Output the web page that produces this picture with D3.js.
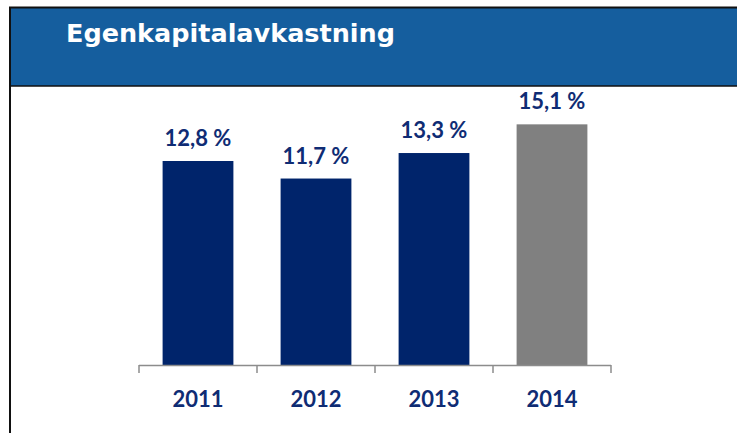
<!DOCTYPE html>
<html>
<head>
<meta charset="utf-8">
<script src="https://cdn.jsdelivr.net/npm/d3@7"></script>
<style>
body{margin:0;background:#fff;}
svg{display:block;}
</style>
</head>
<body>
<script>
var years=["2011","2012","2013","2014"];
var roe=[12.8,11.7,13.3,15.1];
var labels=["12,8 %","11,7 %","13,3 %","15,1 %"];
var title="Egenkapitalavkastning";

var width=737,height=433;
var svg=d3.select("body").append("svg").attr("width",width).attr("height",height);

// header band + frame
svg.append("rect").attr("x",10).attr("y",8).attr("width",width-10).attr("height",78).attr("fill","#155e9e");
svg.append("line").attr("x1",9).attr("x2",width).attr("y1",7.5).attr("y2",7.5).attr("stroke","#111").attr("stroke-width",2);
svg.append("line").attr("x1",9).attr("x2",width).attr("y1",86).attr("y2",86).attr("stroke","#111").attr("stroke-width",1.5);
svg.append("line").attr("x1",10).attr("x2",10).attr("y1",7).attr("y2",height).attr("stroke","#111").attr("stroke-width",2);

svg.append("text").attr("x",66).attr("y",42).attr("fill","#fff")
	.attr("textLength",329).attr("lengthAdjust","spacingAndGlyphs")
	.style("font-family","DejaVu Sans").style("font-weight","bold").style("font-size","25px").text(title);

var xscale=d3.scaleBand().domain(years).range([139,611]).paddingInner(0.4).paddingOuter(0.2);
var yscale=d3.scaleLinear().domain([0,16]).range([365,110]);

var g=svg.append("g");
g.selectAll("rect.bar").data(years).enter().append("rect").attr("class","bar")
	.attr("x",function(d){return xscale(d);})
	.attr("width",xscale.bandwidth())
	.attr("y",function(d,i){return yscale(roe[i]);})
	.attr("height",function(d,i){return yscale(0)-yscale(roe[i]);})
	.attr("fill",function(d,i){return i==3?"#808080":"#00246b";});

g.selectAll("text.val").data(years).enter().append("text").attr("class","val")
	.attr("x",function(d){return xscale(d)+xscale.bandwidth()/2;})
	.attr("y",function(d,i){return yscale(roe[i])-15;})
	.attr("text-anchor","middle").attr("fill","#0f2c74")
	.style("font-family","Lato").style("font-weight","bold").style("font-size","22px")
	.text(function(d,i){return labels[i];});

// axis line and ticks at band edges
svg.append("line").attr("x1",139).attr("x2",611).attr("y1",365.5).attr("y2",365.5).attr("stroke","#8c8c8c").attr("stroke-width",1.5);
var edges=years.map(function(d){return xscale(d)-xscale.step()*xscale.paddingInner()/2;});
edges.push(611);
edges[0]=139;
svg.selectAll("line.tick").data(edges).enter().append("line").attr("class","tick")
	.attr("x1",function(d){return d;}).attr("x2",function(d){return d;})
	.attr("y1",365).attr("y2",373).attr("stroke","#8c8c8c").attr("stroke-width",1.5);

svg.selectAll("text.yr").data(years).enter().append("text").attr("class","yr")
	.attr("x",function(d){return xscale(d)+xscale.bandwidth()/2;})
	.attr("y",407).attr("text-anchor","middle").attr("fill","#0f2c74")
	.style("font-family","Lato").style("font-weight","bold").style("font-size","22px")
	.text(function(d){return d;});
</script>
</body>
</html>
